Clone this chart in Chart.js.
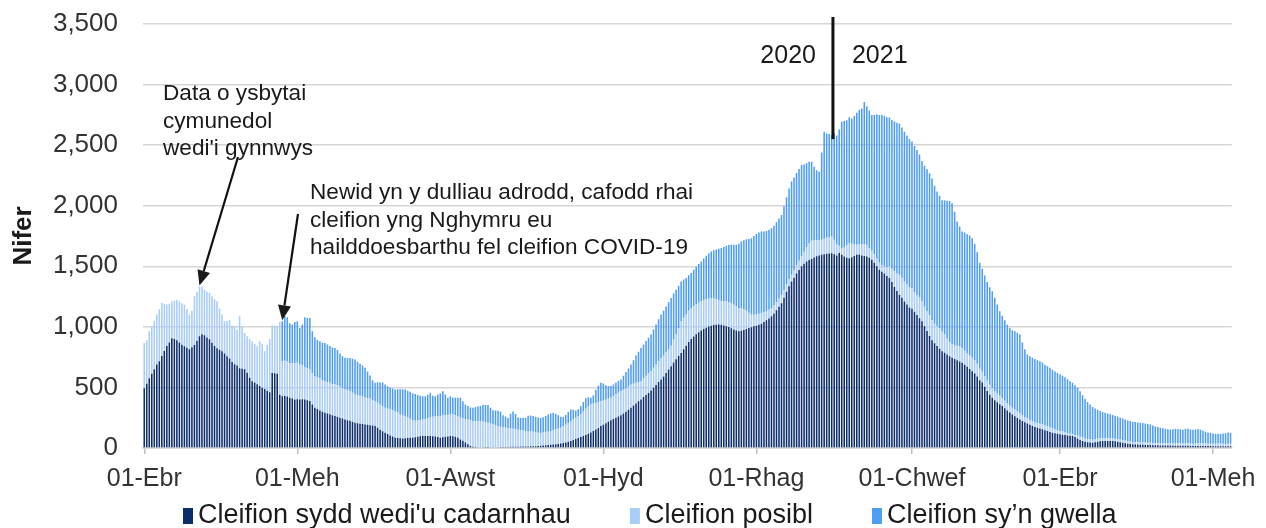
<!DOCTYPE html>
<html><head><meta charset="utf-8">
<script src="https://cdn.jsdelivr.net/npm/chart.js@4.4.1/dist/chart.umd.min.js"></script>
<style>html,body{margin:0;padding:0;background:#fff}canvas{display:block}</style>
</head><body>
<canvas id="c" width="1266" height="528"></canvas>
<script>
// ---- categories / ticks ----
const startYear = 2020, startMonth = 3, startDay = 1; // 01 April 2020
const dayCount = 434;
const tickDates = ['2020-04-01','2020-06-01','2020-08-01','2020-10-01','2020-12-01','2021-02-01','2021-04-01','2021-06-01'];
const tickLabels = ['01-Ebr','01-Meh','01-Awst','01-Hyd','01-Rhag','01-Chwef','01-Ebr','01-Meh'];
const seriesNames = ["Cleifion sydd wedi'u cadarnhau", 'Cleifion posibl', 'Cleifion sy\u2019n gwella'];
const seriesColors = ['#0b2d6b', '#a9ccf8', '#4f9df7'];
const yTicks = [0, 500, 1000, 1500, 2000, 2500, 3000, 3500];
const note1Lines = ['Data o ysbytai', 'cymunedol', "wedi'i gynnwys"];
const note2Lines = ['Newid yn y dulliau adrodd, cafodd rhai', 'cleifion yng Nghymru eu', 'hailddoesbarthu fel cleifion COVID-19'];
const yearLabels = ['2020', '2021'];
const note1Date = '2020-04-23';
const note2Date = '2020-05-26';
const yearSplitDate = '2021-01-01';

// ---- series values (daily) ----
const confirmed = [
 494,530,576,612,650,690,716,760,800,842,871,906,900,889,870,852,840,828,815,832,851,884,922,939,930,912,897,868,842,823,
 810,799,780,758,738,710,692,680,659,655,650,622,580,552,540,527,512,497,486,472,460,620,618,612,440,428,430,425,415,408,401,
 403,400,402,401,395,387,360,332,322,310,300,291,284,278,270,264,258,250,243,236,230,224,216,209,205,201,198,195,192,188,
 185,181,168,150,138,126,115,104,95,85,82,80,78,80,82,84,85,88,92,96,99,100,99,99,97,95,90,85,88,92,95,
 99,96,92,85,71,60,45,30,16,10,8,7,6,6,5,5,6,6,7,7,8,8,9,9,10,10,11,11,12,12,13,
 13,14,14,15,16,18,20,22,24,26,28,31,34,38,42,46,52,58,66,74,82,90,99,108,118,128,140,152,166,181,
 192,204,216,230,240,250,260,270,285,300,315,332,350,368,385,400,420,438,455,475,498,520,545,565,590,620,648,675,705,732,760,
 785,815,845,875,900,920,938,955,970,982,992,1002,1010,1015,1018,1020,1018,1012,1005,998,988,978,970,963,968,975,983,991,997,1004,
 1010,1018,1025,1040,1055,1070,1087,1110,1138,1165,1195,1240,1290,1335,1375,1405,1440,1470,1500,1520,1540,1552,1560,1572,1583,1590,1595,1600,1604,1606,1608,
 1600,1590,1610,1595,1580,1570,1567,1575,1585,1595,1598,1590,1585,1581,1570,1554,1530,1500,1471,1455,1440,1420,1403,1370,1330,1295,1266,1240,1210,1185,1160,
 1150,1125,1098,1072,1046,1005,965,925,890,865,842,820,799,786,772,758,744,735,724,714,703,688,670,652,634,615,590,560,
 540,505,470,440,414,395,378,362,346,328,310,293,277,262,248,235,222,212,202,191,181,174,167,160,154,147,140,133,126,122,118,
 113,110,107,104,101,99,90,78,66,58,52,48,46,44,47,52,56,58,58,57,58,58,56,52,48,44,40,36,33,30,
 29,28,27,26,25,24,24,23,22,22,21,21,20,20,20,19,19,19,18,18,18,18,17,17,17,17,16,16,16,16,16,
 15,15,15,15,14,14,14,14
];
const suspected = [
 373,360,387,390,400,411,430,437,390,343,320,305,315,335,340,343,343,320,286,300,402,405,412,395,377,380,382,384,386,388,
 340,302,266,290,320,300,308,297,428,345,300,300,320,329,320,313,370,363,313,378,440,392,392,395,600,288,290,292,285,292,300,
 300,290,278,268,261,262,258,262,261,265,258,262,261,260,258,262,260,255,250,252,247,244,240,236,233,230,228,222,219,220,
 210,206,205,206,208,206,210,215,218,220,212,200,192,184,170,158,147,137,135,136,137,140,145,152,160,168,175,179,180,179,178,
 178,180,178,179,179,185,195,205,210,212,214,215,216,214,210,204,196,188,182,175,168,162,160,156,152,148,144,140,136,132,128,
 128,126,120,114,110,106,108,110,112,114,118,122,126,130,138,146,155,164,170,176,182,187,200,215,225,232,225,218,212,206,
 200,195,190,184,188,192,196,199,196,193,191,190,180,170,160,152,155,158,160,160,165,170,172,175,172,170,170,170,190,210,230,
 261,260,258,257,256,252,248,244,241,238,235,231,228,220,210,200,193,198,204,207,209,204,198,193,188,170,150,125,104,95,
 92,90,88,80,75,72,69,70,68,69,69,65,60,58,55,62,70,76,82,100,120,140,151,140,130,126,124,128,132,135,137,
 120,90,60,55,80,105,124,110,95,82,85,90,96,90,80,75,69,62,58,55,60,75,95,110,130,150,165,165,165,165,165,
 168,162,165,170,165,160,166,170,164,160,165,168,160,150,130,115,110,115,120,124,120,115,110,112,110,108,105,95,
 90,88,85,82,80,76,72,69,66,62,58,55,55,56,55,52,48,44,41,41,42,41,40,41,42,41,40,38,35,32,30,
 28,26,24,20,16,14,18,24,27,28,27,26,26,25,24,24,23,22,22,23,22,21,21,22,22,21,21,20,20,20,
 20,19,19,20,21,20,19,18,18,19,20,21,20,19,18,18,19,20,20,21,22,21,20,19,20,21,22,22,21,20,20,
 20,21,22,22,21,20,21,22
];
const recovering = [
 0,0,0,0,0,0,0,0,0,0,0,0,0,0,0,0,0,0,0,0,0,0,0,0,0,0,0,0,0,0,
 0,0,0,0,0,0,0,0,0,0,0,0,0,0,0,0,0,0,0,0,0,0,0,0,0,330,370,363,330,319,340,
 343,301,340,411,418,424,345,320,310,306,310,314,310,305,302,300,290,275,265,256,265,275,280,285,275,265,255,245,220,190,
 165,151,170,185,195,192,185,180,178,178,190,205,215,219,220,222,220,220,210,200,192,188,195,205,175,165,177,185,201,170,141,
 150,140,144,150,164,140,120,111,108,110,115,120,124,135,140,145,130,117,120,125,123,100,90,82,120,144,125,100,99,105,109,
 125,128,130,128,126,124,126,132,140,145,145,130,110,90,75,80,90,95,80,60,55,68,80,88,75,55,70,110,135,151,
 140,120,105,97,96,96,97,97,115,135,150,167,195,225,250,274,280,288,295,301,315,330,345,361,370,378,385,393,380,365,350,
 329,315,300,295,288,300,310,320,329,345,360,372,384,398,410,425,439,450,460,470,480,495,510,530,549,570,590,610,631,650,
 665,670,674,668,662,660,658,655,658,660,660,690,720,750,769,765,760,758,754,720,690,670,652,610,580,565,720,882,860,850,838,
 880,900,960,1043,1040,1030,1040,1035,1060,1090,1110,1122,1176,1150,1135,1119,1150,1190,1220,1238,1240,1235,1230,1227,1235,1240,1245,1240,1235,1230,1225,
 1212,1205,1197,1180,1159,1165,1170,1172,1171,1140,1110,1095,1086,1110,1140,1166,1166,1100,1025,990,964,975,985,990,988,960,920,875,
 850,830,815,805,799,770,735,697,680,665,650,643,640,645,648,649,600,560,529,525,522,520,518,515,510,500,495,491,485,478,472,
 466,460,452,444,435,425,410,395,376,350,325,305,288,270,255,240,226,218,210,204,198,194,190,185,180,178,175,172,169,165,
 165,164,163,160,156,154,152,145,138,132,127,122,118,116,115,118,120,117,116,112,118,120,116,114,116,118,112,105,98,92,90,
 85,82,80,78,84,88,92,90
];

// ---- build category list (one per day) ----
const categories = [];
for (let i = 0; i < dayCount; i++) {
  const d = new Date(Date.UTC(startYear, startMonth, startDay + i));
  categories.push(d.toISOString().slice(0, 10));
}

const FONT = '"Liberation Sans", Arial, Helvetica, sans-serif';

function drawArrow(ctx, x1, y1, x2, y2) {
  const ang = Math.atan2(y2 - y1, x2 - x1);
  const L = 15, W = 6.5;
  const bx = x2 - L * Math.cos(ang), by = y2 - L * Math.sin(ang);
  ctx.beginPath();
  ctx.moveTo(x1, y1); ctx.lineTo(bx, by);
  ctx.stroke();
  ctx.beginPath();
  ctx.moveTo(x2, y2);
  ctx.lineTo(bx + W * Math.sin(ang), by - W * Math.cos(ang));
  ctx.lineTo(bx - W * Math.sin(ang), by + W * Math.cos(ang));
  ctx.closePath();
  ctx.fill();
}

const overlay = {
  id: 'overlay',
  afterDraw(chart) {
    const { ctx, scales: { x, y } } = chart;
    const ds = chart.data.datasets;
    const totalAt = (i) => ds.reduce((s, d) => s + (d.data[i] || 0), 0);
    ctx.save();
    // notes
    ctx.fillStyle = '#1a1a1a';
    ctx.font = '22.6px ' + FONT;
    ctx.textAlign = 'left';
    ctx.textBaseline = 'middle';
    note1Lines.forEach((t, i) => ctx.fillText(t, 163, 94 + i * 27.5));
    note2Lines.forEach((t, i) => ctx.fillText(t, 310, 193 + i * 27.5));
    ctx.strokeStyle = '#111';
    ctx.lineWidth = 2.2;
    const i1 = categories.indexOf(note1Date);
    drawArrow(ctx, 238, 157, x.getPixelForValue(i1), y.getPixelForValue(totalAt(i1)) - 1);
    const i2 = categories.indexOf(note2Date);
    drawArrow(ctx, 298, 214, x.getPixelForValue(i2), y.getPixelForValue(totalAt(i2)) - 1);
    // year divider
    const iy = categories.indexOf(yearSplitDate);
    const lx = (x.getPixelForValue(iy - 1) + x.getPixelForValue(iy)) / 2;
    ctx.lineWidth = 3;
    ctx.beginPath();
    ctx.moveTo(lx, 17);
    ctx.lineTo(lx, y.getPixelForValue(2550));
    ctx.stroke();
    ctx.font = '25px ' + FONT;
    ctx.textAlign = 'right';
    ctx.fillText(yearLabels[0], lx - 17, 56);
    ctx.textAlign = 'left';
    ctx.fillText(yearLabels[1], lx + 19, 56);
    // legend
    ctx.font = '27px ' + FONT;
    ctx.textAlign = 'left';
    ctx.textBaseline = 'middle';
    let lxPos = 183;
    const ly = 516;
    ds.forEach((d, i) => {
      ctx.fillStyle = d.backgroundColor;
      ctx.fillRect(lxPos, ly - 8, 10, 16);
      ctx.fillStyle = '#1a1a1a';
      ctx.fillText(d.label, lxPos + 15, ly);
      lxPos += 15 + ctx.measureText(d.label).width + 59;
    });
    ctx.restore();
  }
};

new Chart(document.getElementById('c'), {
  type: 'bar',
  data: {
    labels: categories,
    datasets: [
      { label: seriesNames[0], data: confirmed, backgroundColor: seriesColors[0] },
      { label: seriesNames[1], data: suspected, backgroundColor: seriesColors[1] },
      { label: seriesNames[2], data: recovering, backgroundColor: seriesColors[2] }
    ]
  },
  options: {
    responsive: false,
    animation: false,
    devicePixelRatio: 1,
    layout: { padding: { left: 0, right: 34, top: 24, bottom: 24 } },
    datasets: { bar: { barPercentage: 1, categoryPercentage: 0.62, borderWidth: 0 } },
    plugins: { legend: { display: false }, tooltip: { enabled: false } },
    scales: {
      x: {
        stacked: true,
        grid: { display: true, offset: false, drawOnChartArea: false, drawTicks: true, tickLength: 6, color: '#bfbfbf', lineWidth: 1.5 },
        border: { display: true, color: '#d0d0d0', width: 1.5 },
        ticks: {
          autoSkip: false, maxRotation: 0, minRotation: 0, padding: 10,
          color: '#333', font: { family: FONT, size: 25 },
          callback: function (v, i) {
            const k = tickDates.indexOf(categories[i]);
            return k >= 0 ? tickLabels[k] : null;
          }
        }
      },
      y: {
        stacked: true,
        min: yTicks[0], max: yTicks[yTicks.length - 1],
        afterFit: (s) => { s.width = 143; s.paddingTop = 0; s.paddingBottom = 0; },
        afterBuildTicks: (s) => { s.ticks = yTicks.map(v => ({ value: v })); },
        grid: { color: '#d6d6d6', lineWidth: 1.5, drawTicks: false },
        border: { display: false },
        ticks: {
          padding: 25, color: '#333', font: { family: FONT, size: 26 },
          callback: (v) => Number(v).toLocaleString('en-US')
        },
        title: { display: true, text: 'Nifer', color: '#1a1a1a', font: { family: FONT, size: 26, weight: 'bold' }, padding: { top: 8, bottom: 0 } }
      }
    }
  },
  plugins: [overlay]
});
</script>
</body></html>
